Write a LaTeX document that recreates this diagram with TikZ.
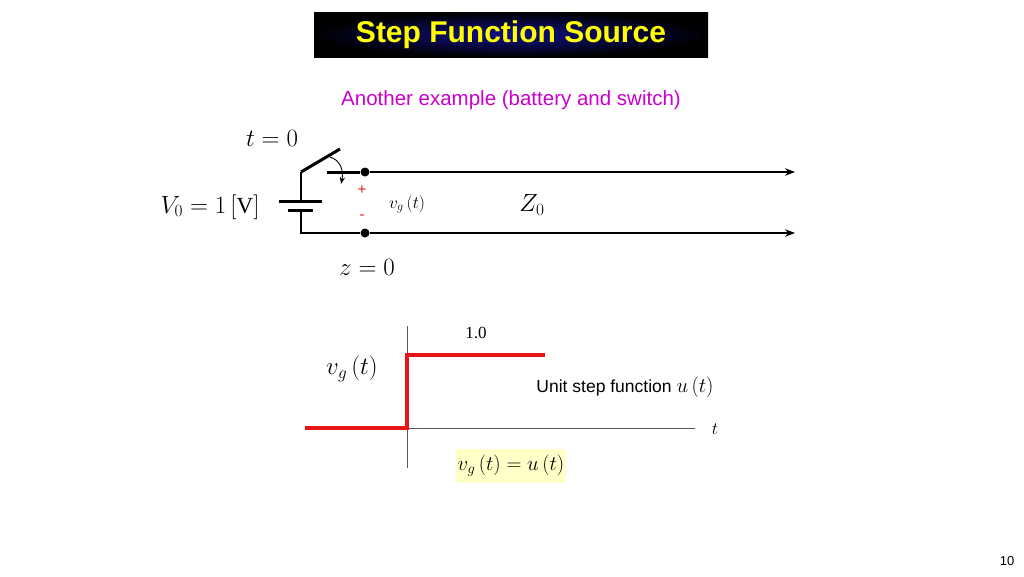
\documentclass[tikz,border=0pt]{standalone}
\usepackage{fontspec}
\setmainfont{Liberation Serif}
\setsansfont{Liberation Sans}
\usetikzlibrary{arrows.meta}
\definecolor{navy}{RGB}{20,20,110}
\definecolor{ttl}{RGB}{255,255,0}
\definecolor{mag}{RGB}{204,0,204}
\definecolor{stepred}{RGB}{230,20,20}
\definecolor{note}{RGB}{255,255,200}
\tikzset{wire/.style={line width=1.4pt},thickw/.style={line width=3pt},
 dotn/.style={circle,fill=black,inner sep=0pt,minimum size=9pt},
 lbl/.style={inner sep=0pt,font=\fontsize{23}{26}\selectfont},
 sans/.style={inner sep=0pt,font=\sffamily\fontsize{18}{20}\selectfont}}
\begin{document}
\begin{tikzpicture}[x=1pt,y=-1pt]
\useasboundingbox (0,0) rectangle (1024,576);
\shade[inner color=navy!80!blue, outer color=black] (314,12) rectangle (708,57);
\node[font=\sffamily\bfseries\fontsize{30}{34}\selectfont,text=ttl] (title) at (511,35) {Step Function Source};
\node[sans,text=mag,font=\sffamily\fontsize{20.5}{23}\selectfont] (sub) at (511,100) {Another example (battery and switch)};
% circuit
\node[dotn] (d1) at (365,172) {};
\node[dotn] (d2) at (365,233) {};
\coordinate (piv) at (301,172);
\coordinate (blade) at (340,149);
\coordinate (e1) at (795,172);
\coordinate (e2) at (795,233);
\draw[thickw] (piv) -- (blade);
\draw[wire] (piv) -- (301,201);
\draw[thickw] (279,201) -- (322,201);
\draw[thickw] (288,210) -- (313,210);
\draw[wire] (301,210) -- (301,233) -- (d2);
\draw[thickw] (327,172) -- (d1);
\draw[wire,-{Stealth[length=10pt]}] (d1) -- (e1);
\draw[wire,-{Stealth[length=10pt]}] (d2) -- (e2);
\draw[line width=0.9pt,-{Stealth[length=7pt]}] (330,157) .. controls (340,160) and (344,170) .. (341,184);
\node[sans,text=stepred,font=\sffamily\fontsize{15}{17}\selectfont] (plus) at (362,190) {+};
\node[sans,text=stepred,font=\sffamily\fontsize{15}{17}\selectfont] (minus) at (362,217) {-};
\node[lbl,font=\fontsize{18}{20}\selectfont] (vg) at (407,204) {$v_g\left(t\right)$};
\node[lbl,font=\fontsize{26}{28}\selectfont] (z0) at (532,205) {$Z_0$};
\node[lbl] (v0) at (210,207) {$V_0 = 1\left[\mathrm{V}\right]$};
\node[lbl] (t0) at (272,138) {$t = 0$};
\node[lbl] (zz) at (367,267) {$z = 0$};
% graph
\coordinate (ya) at (407,326); \coordinate (yb) at (407,468);
\coordinate (xa) at (305,428); \coordinate (xb) at (695,428);
\draw[line width=0.7pt,gray!70!black] (ya) -- (yb);
\draw[line width=0.7pt,gray!70!black] (xa) -- (xb);
\draw[line width=3.5pt,stepred] (xa) -- (407,428) -- (407,355) -- (545,355);
\node[lbl,font=\fontsize{17}{19}\selectfont] (one) at (476,333) {1.0};
\node[lbl] (vg2) at (352,369) {$v_g\left(t\right)$};
\node[sans,font=\sffamily\fontsize{17.5}{20}\selectfont] (us) at (625,387) {Unit step function \rmfamily\fontsize{21}{23}\selectfont$u\left(t\right)$};
\node[lbl,font=\fontsize{17}{19}\selectfont] (tl) at (715,429) {$t$};
\node[fill=note,minimum width=110pt,minimum height=34pt,inner sep=0pt,font=\fontsize{21}{23}\selectfont] (eq) at (511,466) {$v_g\left(t\right) = u\left(t\right)$};
\node[sans,font=\sffamily\fontsize{13}{15}\selectfont] (pg) at (1007,561) {10};
\end{tikzpicture}
\end{document}
